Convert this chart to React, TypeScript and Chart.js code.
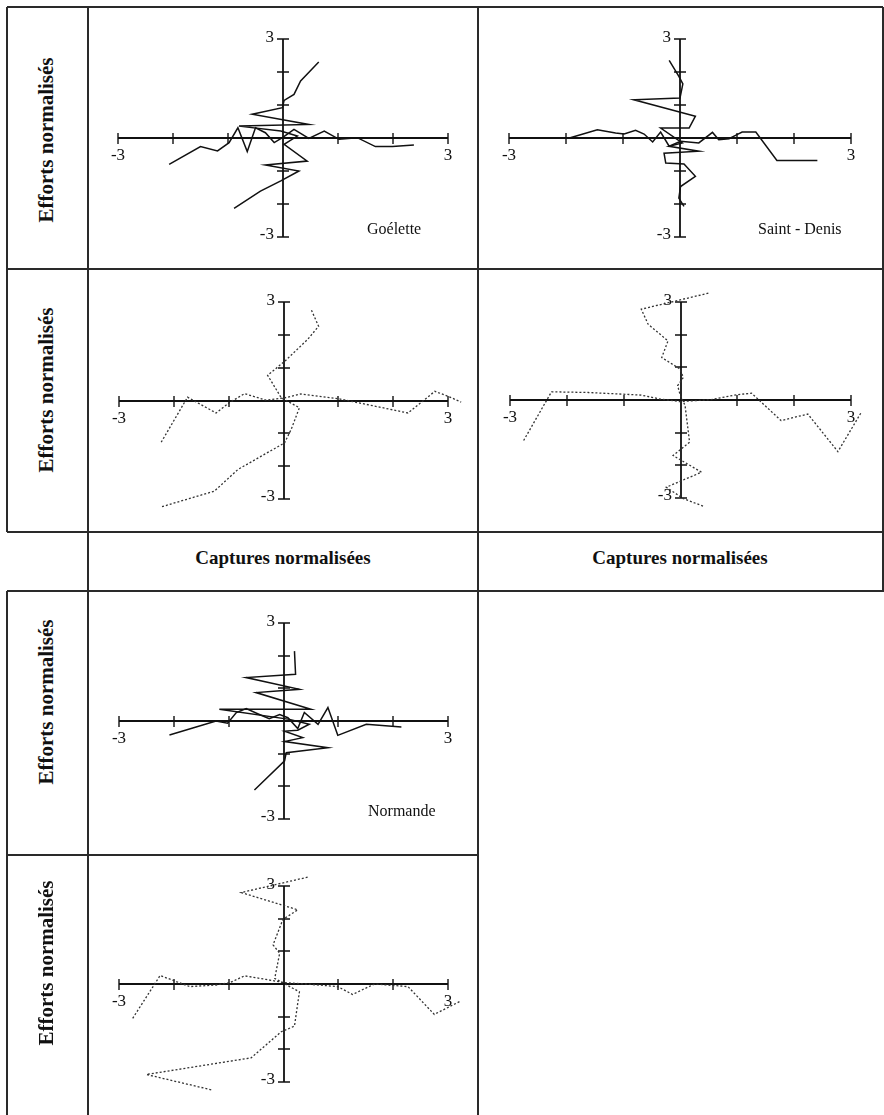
import React, { useEffect, useRef } from "react";
import { Chart, registerables } from "chart.js";

Chart.register(...registerables);

type Pt = [number, number];

// ---------- axis ticks ----------
const axisTicks = [-3, -2, -1, 1, 2, 3];
const labelledTicks = [-3, 3];

// ---------- data: x = captures normalisées, y = efforts normalisés ----------
const goeletteSolidCaptures: Pt[] = [
  [-2.07, -0.8], [-1.5, -0.26], [-1.19, -0.39], [-0.98, -0.14], [-0.82, 0.31], [-0.65, -0.41],
  [-0.5, 0.31], [-0.32, 0.16], [-0.16, -0.14], [-0.01, 0.01], [0.2, 0.26], [0.47, -0.01],
  [0.75, 0.21], [1.02, -0.04], [1.35, 0.01], [1.68, -0.26], [1.99, -0.26], [2.38, -0.21],
];
const goeletteSolidEfforts: Pt[] = [
  [0.65, 2.3], [0.32, 1.73], [0.2, 1.32], [0.02, 1.14], [-0.01, 0.92], [-0.56, 0.72],
  [0.47, 0.41], [-0.8, 0.36], [-0.04, 0.21], [0.26, 0.06], [0.02, -0.19], [0.44, -0.7],
  [-0.32, -0.82], [0.29, -1.0], [-0.04, -1.3], [-0.41, -1.61], [-0.89, -2.13],
];
const saintDenisSolidCaptures: Pt[] = [
  [-1.94, 0], [-1.45, 0.25], [-1.13, 0.15], [-0.98, 0.12], [-0.78, 0.23], [-0.63, 0.12],
  [-0.48, -0.12], [-0.34, 0.18], [-0.19, -0.25], [0.01, -0.1], [0.33, -0.15], [0.57, 0.17],
  [0.68, -0.05], [0.86, -0.02], [1.0, 0.1], [1.09, 0.18], [1.33, 0.18], [1.7, -0.68], [2.41, -0.68],
];
const saintDenisSolidEfforts: Pt[] = [
  [-0.19, 2.35], [-0.02, 1.87], [0.05, 1.64], [0.0, 1.21], [-0.81, 1.16], [0.27, 0.66],
  [0.16, 0.3], [-0.34, 0.3], [0.04, -0.15], [-0.19, -0.25], [0.33, -0.4], [-0.28, -0.46],
  [-0.25, -0.76], [0.07, -0.79], [0.27, -1.16], [0.01, -1.47], [-0.02, -1.82], [0.07, -2.07],
];
const goeletteDottedCaptures: Pt[] = [
  [-2.23, -1.27], [-1.75, 0.1], [-1.23, -0.38], [-0.99, -0.07], [-0.71, 0.21], [-0.32, 0.01],
  [0.02, 0.08], [0.32, 0.2], [1.02, 0.05], [2.27, -0.38], [2.76, 0.28], [3.0, 0.13], [3.24, -0.05],
];
const goeletteDottedEfforts: Pt[] = [
  [0.51, 2.75], [0.64, 2.26], [0.44, 1.86], [0.02, 1.19], [-0.29, 0.77], [-0.04, 0.08],
  [0.29, -0.22], [0.14, -0.88], [0.02, -1.29], [-0.83, -2.1], [-1.26, -2.76], [-2.23, -3.24],
];
const saintDenisDottedCaptures: Pt[] = [
  [-2.76, -1.24], [-2.27, 0.25], [-1.62, 0.23], [-1.04, 0.18], [-0.69, 0.15], [-0.36, 0.03],
  [-0.01, -0.05], [0.54, 0.01], [0.95, 0.15], [1.25, 0.21], [1.77, -0.63], [2.24, -0.43],
  [2.77, -1.58], [3.18, -0.38],
];
const saintDenisDottedEfforts: Pt[] = [
  [0.49, 3.27], [-0.69, 2.78], [-0.57, 2.32], [-0.22, 1.81], [-0.33, 1.3], [-0.01, 0.95],
  [0.05, 0.69], [-0.05, 0.44], [-0.01, 0.18], [0.08, -0.17], [0.16, -1.29], [-0.13, -1.7],
  [0.37, -2.21], [-0.25, -2.67], [0.05, -3.02], [0.4, -3.25],
];
const normandeSolidCaptures: Pt[] = [
  [-2.08, -0.43], [-1.23, 0.0], [-1.02, -0.07], [-0.86, 0.26], [-0.68, 0.38], [-0.44, 0.2],
  [-0.26, 0.07], [-0.07, 0.2], [0.08, 0.1], [0.26, -0.23], [0.38, 0.26], [0.63, -0.1],
  [0.81, 0.41], [0.99, -0.44], [1.51, -0.1], [2.15, -0.18],
];
const normandeSolidEfforts: Pt[] = [
  [0.2, 2.14], [0.22, 1.43], [-0.68, 1.33], [0.29, 0.97], [-0.5, 0.87], [0.5, 0.36],
  [-1.17, 0.36], [0.11, 0.05], [0.47, -0.1], [0.26, -0.28], [0.02, -0.31], [0.35, -0.51],
  [0.02, -0.63], [0.81, -0.82], [0.05, -0.97], [0.02, -1.22], [-0.53, -2.11],
];
const normandeDottedCaptures: Pt[] = [
  [-2.75, -1.05], [-2.25, 0.26], [-1.71, -0.08], [-1.23, -0.03], [-0.98, 0.04], [-0.71, 0.25],
  [-0.32, 0.14], [0.02, 0.04], [0.41, 0.0], [0.99, -0.08], [1.26, -0.32], [1.66, 0.0],
  [2.27, -0.08], [2.75, -0.93], [3.21, -0.54],
];
const normandeDottedEfforts: Pt[] = [
  [0.44, 3.27], [-0.77, 2.8], [0.26, 2.27], [-0.01, 1.98], [-0.19, 1.2], [-0.07, 0.94],
  [-0.16, 0.17], [0.29, -0.24], [0.2, -1.29], [-0.04, -1.46], [-0.59, -2.26], [-2.5, -2.77],
  [-1.29, -3.25],
];

// ---------- layout ----------
type PanelDef = {
  left: number; top: number; w: number; h: number;
  ax: [number, number]; // pixel of x=-3 and x=3 inside the cell
  ay: [number, number]; // pixel of y=3 and y=-3 inside the cell
  series: Pt[][];
  dotted: boolean;
  name?: string;
};

const panels: PanelDef[] = [
  { left: 88, top: 7, w: 390, h: 262, ax: [30, 360], ay: [32, 230], series: [goeletteSolidCaptures, goeletteSolidEfforts], dotted: false, name: "Goélette" },
  { left: 478, top: 7, w: 405, h: 262, ax: [31, 373], ay: [32, 230], series: [saintDenisSolidCaptures, saintDenisSolidEfforts], dotted: false, name: "Saint - Denis" },
  { left: 88, top: 269, w: 390, h: 263, ax: [31, 360], ay: [33, 230], series: [goeletteDottedCaptures, goeletteDottedEfforts], dotted: true },
  { left: 478, top: 269, w: 405, h: 263, ax: [32, 373], ay: [33, 229], series: [saintDenisDottedCaptures, saintDenisDottedEfforts], dotted: true },
  { left: 88, top: 591, w: 390, h: 264, ax: [31, 360], ay: [32, 228], series: [normandeSolidCaptures, normandeSolidEfforts], dotted: false, name: "Normande" },
  { left: 88, top: 855, w: 390, h: 260, ax: [31, 360], ay: [31, 227], series: [normandeDottedCaptures, normandeDottedEfforts], dotted: true },
];

const crossAxes = {
  id: "crossAxes",
  beforeDatasetsDraw(chart: any, _args: any, opts: any) {
    const ctx: CanvasRenderingContext2D = chart.ctx;
    const xs = chart.scales.x;
    const ys = chart.scales.y;
    const x0 = Math.round(xs.getPixelForValue(0));
    const y0 = Math.round(ys.getPixelForValue(0));
    ctx.save();
    ctx.strokeStyle = "#111";
    ctx.lineWidth = 1.8;
    ctx.beginPath();
    ctx.moveTo(xs.getPixelForValue(-3), y0);
    ctx.lineTo(xs.getPixelForValue(3), y0);
    ctx.moveTo(x0, ys.getPixelForValue(3));
    ctx.lineTo(x0, ys.getPixelForValue(-3));
    ctx.stroke();
    ctx.lineWidth = 1.4;
    ctx.beginPath();
    for (const t of axisTicks) {
      const px = Math.round(xs.getPixelForValue(t));
      ctx.moveTo(px, y0 - 5);
      ctx.lineTo(px, y0 + 6);
      const py = Math.round(ys.getPixelForValue(t));
      ctx.moveTo(x0 - 6, py);
      ctx.lineTo(x0 + 6, py);
    }
    ctx.stroke();
    ctx.fillStyle = "#111";
    ctx.font = "17px 'Liberation Serif', 'Times New Roman', serif";
    for (const t of labelledTicks) {
      ctx.textAlign = "center";
      ctx.textBaseline = "middle";
      ctx.fillText(String(t), xs.getPixelForValue(t), y0 + 18);
      ctx.textAlign = "right";
      ctx.fillText(String(t), x0 - 9, ys.getPixelForValue(t) - (t < 0 ? 2 : 1));
    }
    if (opts && opts.name) {
      ctx.textAlign = "left";
      ctx.textBaseline = "alphabetic";
      ctx.font = "16px 'Liberation Serif', 'Times New Roman', serif";
      ctx.fillText(opts.name, xs.getPixelForValue(-3) + 249, ys.getPixelForValue(-3) - 3);
    }
    ctx.restore();
  },
};

function Panel({ def }: { def: PanelDef }) {
  const ref = useRef<HTMLCanvasElement | null>(null);
  useEffect(() => {
    if (!ref.current) return;
    const { w, h, ax, ay } = def;
    const ux = (ax[1] - ax[0]) / 6;
    const uy = (ay[1] - ay[0]) / 6;
    const xmin = -3 - ax[0] / ux;
    const xmax = 3 + (w - ax[1]) / ux;
    const ymax = 3 + ay[0] / uy;
    const ymin = -3 - (h - ay[1]) / uy;
    const chart = new Chart(ref.current, {
      type: "scatter",
      data: {
        datasets: def.series.map((s) => ({
          data: s.map(([x, y]) => ({ x, y })),
          showLine: true,
          pointRadius: 0,
          borderColor: def.dotted ? "#333" : "#111",
          borderWidth: def.dotted ? 1.3 : 1.5,
          borderDash: def.dotted ? [2, 2] : [],
          fill: false,
          tension: 0,
        })),
      },
      options: {
        animation: false,
        responsive: false,
        devicePixelRatio: 1,
        events: [],
        layout: { padding: 0 },
        scales: {
          x: { type: "linear", min: xmin, max: xmax, display: false },
          y: { type: "linear", min: ymin, max: ymax, display: false },
        },
        plugins: {
          legend: { display: false },
          tooltip: { enabled: false },
          crossAxes: { name: def.name },
        } as any,
      },
      plugins: [crossAxes],
    });
    return () => chart.destroy();
  }, [def]);
  return (
    <canvas
      ref={ref}
      width={def.w}
      height={def.h}
      style={{ position: "absolute", left: def.left, top: def.top, width: def.w, height: def.h }}
    />
  );
}

const hLines: [number, number, number][] = [
  [7, 7, 883], [269, 7, 883], [532, 7, 883], [591, 7, 884], [855, 7, 478],
];
const vLines: [number, number, number][] = [
  [7, 7, 532], [7, 591, 1115], [88, 7, 1115], [478, 7, 1115], [883, 7, 591],
];

const effortsLabelCenters = [140, 390, 702, 963];
const capturesLabelCenters = [283, 680];

export default function App() {
  const serif = "'Liberation Serif', 'Times New Roman', serif";
  return (
    <div style={{ position: "absolute", left: 0, top: 0, width: 884, height: 1115, background: "#fff", overflow: "hidden" }}>
      {panels.map((p, i) => (
        <Panel key={i} def={p} />
      ))}
      {hLines.map(([y, x1, x2], i) => (
        <div key={"h" + i} style={{ position: "absolute", left: x1, top: y - 1, width: x2 - x1, height: 2, background: "#2a2a2a" }} />
      ))}
      {vLines.map(([x, y1, y2], i) => (
        <div key={"v" + i} style={{ position: "absolute", left: x - 1, top: y1, width: 2, height: y2 - y1, background: "#2a2a2a" }} />
      ))}
      {effortsLabelCenters.map((cy, i) => (
        <div
          key={"e" + i}
          style={{
            position: "absolute",
            left: 46 - 110,
            top: cy - 13,
            width: 220,
            height: 26,
            lineHeight: "26px",
            textAlign: "center",
            transform: "rotate(-90deg)",
            fontFamily: serif,
            fontWeight: "bold",
            fontSize: 21,
            color: "#111",
            whiteSpace: "nowrap",
          }}
        >
          Efforts normalisés
        </div>
      ))}
      {capturesLabelCenters.map((cx, i) => (
        <div
          key={"c" + i}
          style={{
            position: "absolute",
            left: cx - 150,
            top: 546,
            width: 300,
            height: 24,
            lineHeight: "24px",
            textAlign: "center",
            fontFamily: serif,
            fontWeight: "bold",
            fontSize: 19,
            color: "#111",
            whiteSpace: "nowrap",
          }}
        >
          Captures normalisées
        </div>
      ))}
    </div>
  );
}
